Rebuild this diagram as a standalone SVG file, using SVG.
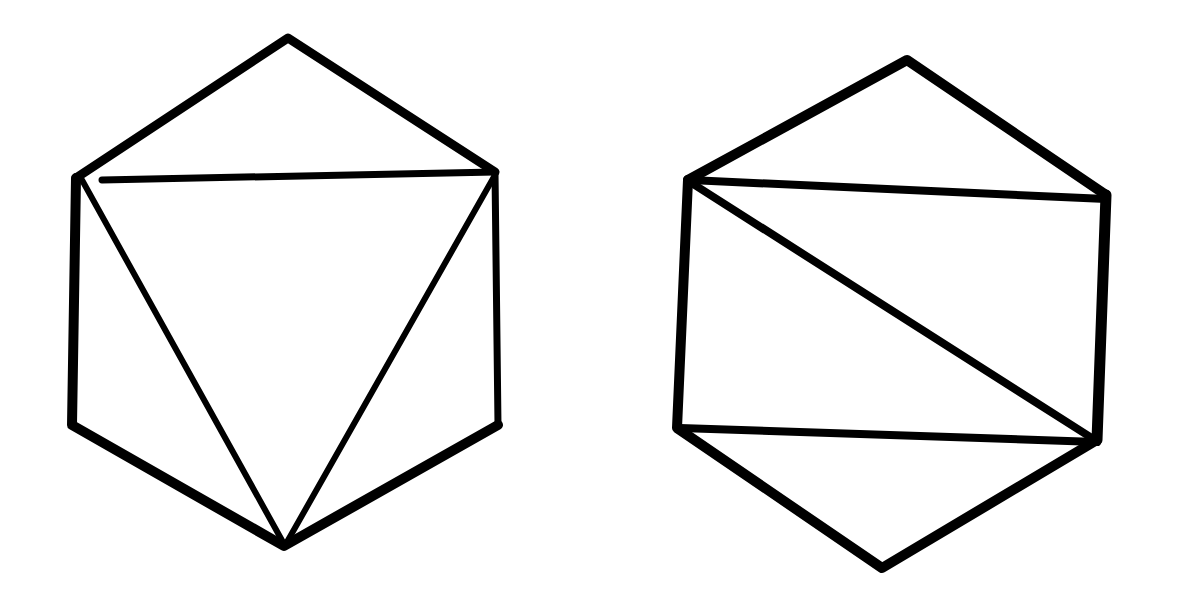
<svg xmlns="http://www.w3.org/2000/svg" width="1200" height="600" viewBox="0 0 1200 600">
<style>
.e{fill:none;stroke:#000;stroke-linecap:round;stroke-linejoin:round}
</style>
<rect width="1200" height="600" fill="#fff"/>
<g id="left-hexagon">
<path class="e" stroke-width="9" d="M76,178 L288,38 L495,172"/>
<path class="e" stroke-width="7" d="M495,172 L498,425"/>
<path class="e" stroke-width="10" d="M498,425 L284,546 L72,425 L76,178"/>
<path class="e" stroke-width="7" d="M102,180 L495,172"/>
<path class="e" stroke-width="6" d="M82,180 L284,544"/>
<path class="e" stroke-width="6" d="M495,175 L287,542"/>
</g>
<g id="right-hexagon">
<path class="e" stroke-width="10" d="M688,180 L907,60 L1106,195"/>
<path class="e" stroke-width="11" d="M1106,195 L1097,440"/>
<path class="e" stroke-width="10" d="M1097,440 L882,568 L677,428 L688,180"/>
<path class="e" stroke-width="8" d="M690,180 L1106,199"/>
<path class="e" stroke-width="8" d="M690,182 L1095,440"/>
<path class="e" stroke-width="8" d="M680,428 L1097,442"/>
</g>
</svg>
